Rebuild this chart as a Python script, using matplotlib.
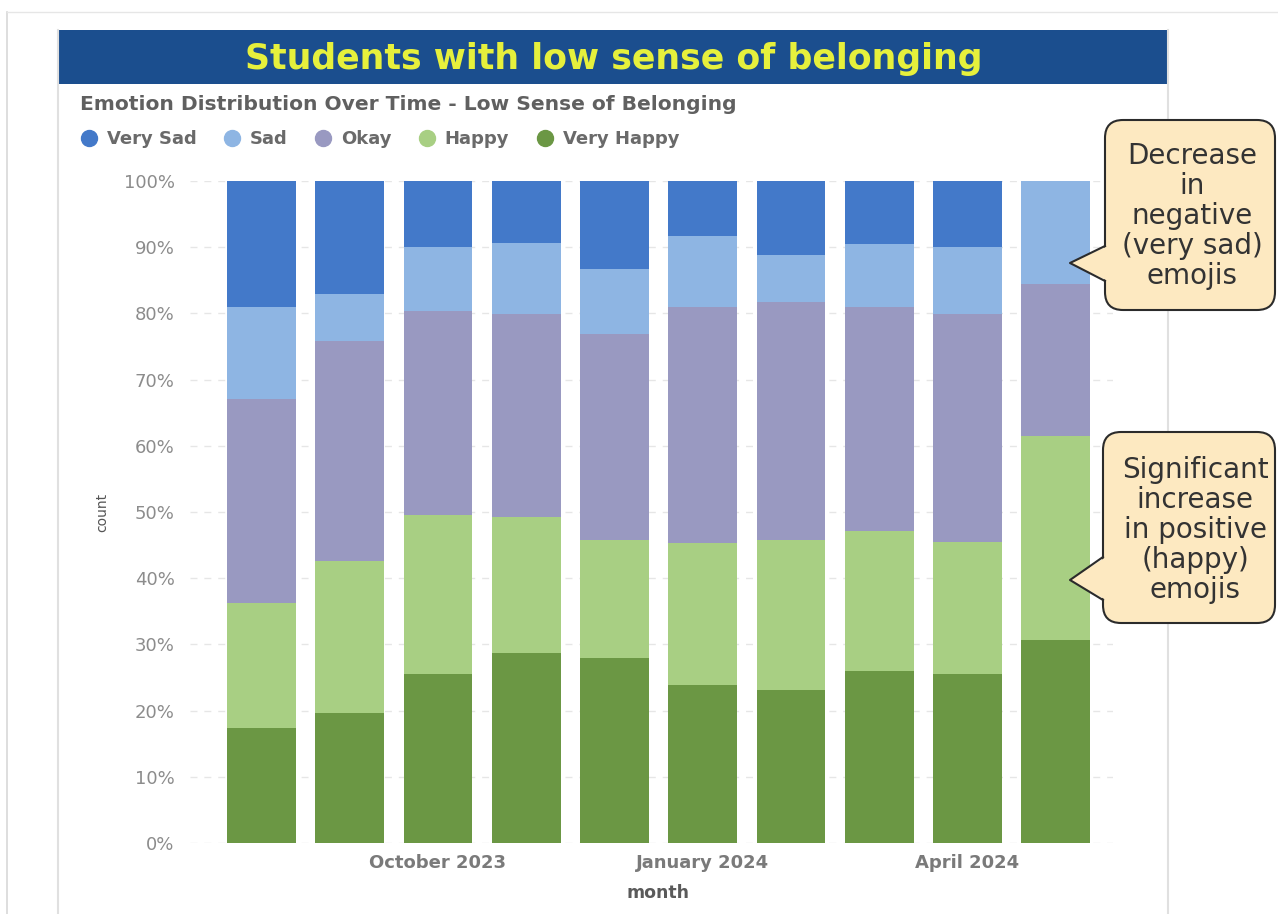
import numpy as np
import matplotlib.pyplot as plt
from matplotlib.lines import Line2D
from matplotlib.patches import FancyBboxPatch, Polygon, Rectangle
from matplotlib.transforms import IdentityTransform

W, H = 1278, 914

# share of each emotion per month (%)
months = ["August 2023", "September 2023", "October 2023", "November 2023", "December 2023",
          "January 2024", "February 2024", "March 2024", "April 2024", "May 2024"]
very_happy = [17.3, 19.7, 25.6, 28.7, 27.9, 23.8, 23.1, 26.0, 25.6, 30.7]
happy = [18.9, 22.9, 23.9, 20.6, 17.9, 21.5, 22.7, 21.2, 19.9, 30.8]
okay = [30.9, 33.3, 30.9, 30.6, 31.1, 35.6, 35.9, 33.7, 34.4, 23.0]
sad = [13.9, 7.0, 9.7, 10.8, 9.8, 10.8, 7.1, 9.6, 10.1, 15.5]
very_sad = [19.0, 17.1, 9.9, 9.3, 13.3, 8.3, 11.2, 9.5, 10.0, 0.0]
shown_months = ["October 2023", "January 2024", "April 2024"]

emotions = ["Very Sad", "Sad", "Okay", "Happy", "Very Happy"]
colors = {"Very Sad": "#4379c9", "Sad": "#8eb5e3", "Okay": "#9999c1",
          "Happy": "#a8cf83", "Very Happy": "#6b9744"}

plt.rcParams['font.family'] = ['DejaVu Sans']

fig = plt.figure(figsize=(W / 100, H / 100), dpi=100)
fig.patch.set_facecolor("white")
ID = IdentityTransform()


def fx(x):
    return x / W


def fy(y):
    return 1 - y / H


# page / card borders
fig.add_artist(Line2D([7, 7], [H - 12, 0], transform=ID, color="#d8d8d8", lw=1.2))
fig.add_artist(Line2D([7, W], [H - 12, H - 12], transform=ID, color="#e6e6e6", lw=1.0))
fig.add_artist(Line2D([58, 58], [H - 30, 0], transform=ID, color="#e0e0e0", lw=1.5))
fig.add_artist(Line2D([1168, 1168], [H - 30, 0], transform=ID, color="#e0e0e0", lw=1.5))

# banner
fig.add_artist(Rectangle((58, H - 84), 1110, 54, transform=ID, fc="#1b4e8e", ec="none"))
fig.text(fx(614), fy(59), "Students with low sense of belonging", ha="center", va="center",
         fontsize=25, fontweight="bold", color="#e6f03c")

# chart title + legend
fig.text(fx(80), fy(105), "Emotion Distribution Over Time - Low Sense of Belonging",
         ha="left", va="center", fontsize=14.6, fontweight="bold", color="#606060")

handles = [Line2D([], [], marker="o", ls="", ms=11.5, mfc=colors[e], mec=colors[e]) for e in emotions]
leg = fig.legend(handles, emotions, loc="center left", bbox_to_anchor=(fx(80), fy(139)),
                 ncol=5, frameon=False, borderpad=0, borderaxespad=0, handlelength=1.0,
                 handletextpad=0.5, columnspacing=1.45, prop={"size": 13, "weight": "bold"})
for t in leg.get_texts():
    t.set_color("#6a6a6a")

# plot area
ax = fig.add_axes([fx(190), fy(843), fx(1113) - fx(190), fy(181) - fy(843)])
x = np.arange(len(months))
bottom = np.zeros(len(months))
for name, vals in [("Very Happy", very_happy), ("Happy", happy), ("Okay", okay),
                   ("Sad", sad), ("Very Sad", very_sad)]:
    ax.bar(x, vals, width=0.78, bottom=bottom, color=colors[name], zorder=3)
    bottom += np.array(vals)

ax.set_ylim(0, 100)
ax.set_xlim(-0.81, 9.65)
ax.set_yticks(np.arange(0, 101, 10))
ax.set_yticklabels(["%d%%" % v for v in range(0, 101, 10)], fontsize=13, color="#8c8c8c")
ax.set_xticks([months.index(m) for m in shown_months])
ax.set_xticklabels(shown_months, fontsize=13, fontweight="bold", color="#7a7a7a")
ax.tick_params(length=0)
ax.tick_params(axis="y", pad=11)
ax.tick_params(axis="x", pad=8)
for s in ax.spines.values():
    s.set_visible(False)
ax.yaxis.grid(True, color="#e6e6e6", ls=(0, (5, 5)), lw=1)
ax.set_axisbelow(True)

fig.text(fx(658), fy(893), "month", ha="center", va="center", fontsize=12.5,
         fontweight="bold", color="#5a5a5a")
fig.text(fx(102), fy(512), "count", ha="center", va="center", rotation=90,
         fontsize=10, color="#555555")

# callout bubbles
cream = "#fde9c1"


def bubble(x0, y0, x1, y1, tip, b0, b1, text, tx, ty):
    fig.add_artist(FancyBboxPatch((x0, H - y1), x1 - x0, y1 - y0,
                                  boxstyle="round,pad=0,rounding_size=18", transform=ID,
                                  fc=cream, ec="#2b2b2b", lw=1.5, zorder=5))
    fig.add_artist(Polygon([(x0 + 3, H - b0), (tip[0], H - tip[1]), (x0 + 3, H - b1)],
                           closed=True, transform=ID, fc=cream, ec="none", zorder=6))
    fig.add_artist(Line2D([x0, tip[0], x0], [H - b0, H - tip[1], H - b1], transform=ID,
                          color="#2b2b2b", lw=1.5, zorder=7))
    fig.text(fx(tx), fy(ty), text, ha="center", va="center", fontsize=20,
             linespacing=1.1, color="#333333", zorder=8)


bubble(1105, 120, 1275, 310, (1070, 263), 246, 281,
       "Decrease\nin\nnegative\n(very sad)\nemojis", 1192, 216)
bubble(1103, 432, 1275, 623, (1070, 580), 557, 600,
       "Significant\nincrease\nin positive\n(happy)\nemojis", 1195, 530)

fig.savefig("out.png", dpi=100)
